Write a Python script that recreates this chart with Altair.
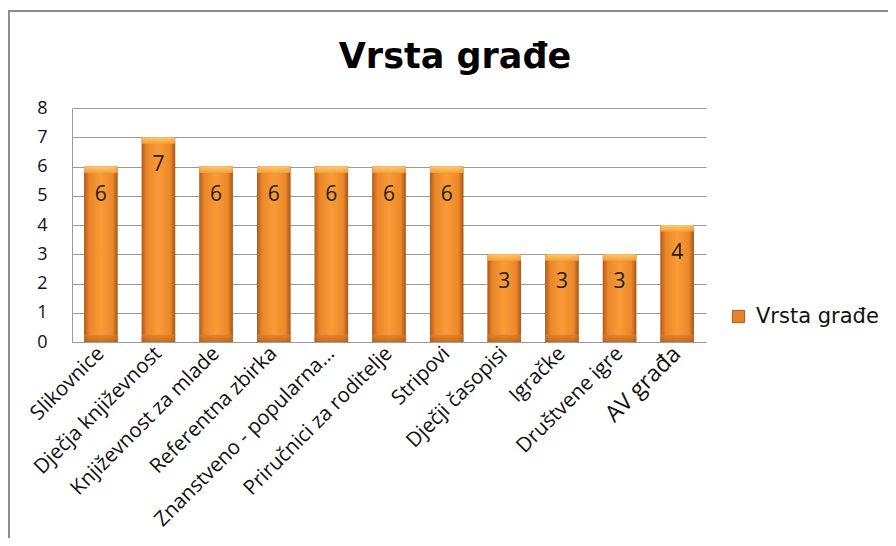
import altair as alt
import pandas as pd

categories = ["Slikovnice", "Dječja književnost", "Književnost za mlade", "Referentna zbirka",
              "Znanstveno - popularna...", "Priručnici za roditelje", "Stripovi", "Dječji časopisi",
              "Igračke", "Društvene igre", "AV građa"]
values = [6, 7, 6, 6, 6, 6, 6, 3, 3, 3, 4]
series_name = "Vrsta građe"
y_ticks = [0, 1, 2, 3, 4, 5, 6, 7, 8]

df = pd.DataFrame({"cat": categories, "val": values, "series": series_name})

xenc = alt.X("cat:N", sort=categories, title=None,
             scale=alt.Scale(paddingInner=0.42, paddingOuter=0.21),
             axis=alt.Axis(labelAngle=-45, labelAlign="right", labelBaseline="middle",
                           labelFont="Open Sans",
                           labelFontSize=alt.ExprRef("datum.value == 'AV građa' ? 23 : 20.5"),
                           labelColor="#111", labelPadding=8, ticks=False,
                           domainColor="#9a9a9a", labelLimit=400))
yscale = alt.Scale(domain=[0, 8])
yaxis = alt.Axis(values=y_ticks, grid=True, gridColor="#9a9a9a", domainColor="#9a9a9a",
                 ticks=False, labelFont="Open Sans", labelFontSize=18,
                 labelColor="#111", labelPadding=25, title=None)
yenc = alt.Y("val:Q", scale=yscale, axis=yaxis)

base = alt.Chart(df)

legend_layer = base.mark_bar(opacity=1).encode(
    x=xenc,
    y=yenc,
    color=alt.Color("series:N", title=None,
                    scale=alt.Scale(range=["#E8832A"]),
                    legend=alt.Legend(orient="none", legendX=656, legendY=198,
                                      symbolType="square", symbolSize=150,
                                      symbolStrokeColor="#a85a1c", symbolStrokeWidth=1,
                                      labelFont="DejaVu Sans", labelFontSize=21,
                                      labelColor="#111", labelOffset=7, labelLimit=300)),
)

grad = alt.LinearGradient(gradient="linear", x1=0, x2=1, y1=0, y2=0, stops=[
    alt.GradientStop(color="#B35A1A", offset=0),
    alt.GradientStop(color="#E9862B", offset=0.15),
    alt.GradientStop(color="#F99B36", offset=0.5),
    alt.GradientStop(color="#EB882B", offset=0.85),
    alt.GradientStop(color="#A9561A", offset=1),
])
bars = base.mark_bar(fill=grad).encode(x=xenc, y=yenc)

bevel_grad = alt.LinearGradient(gradient="linear", x1=0, x2=0, y1=0, y2=1, stops=[
    alt.GradientStop(color="#FFD27A", offset=0),
    alt.GradientStop(color="#F9A23D", offset=1),
])
bevel = base.transform_calculate(vtop="datum.val - 0.22").mark_bar(
    fill=bevel_grad, opacity=0.85).encode(x=xenc, y=yenc, y2="vtop:Q")

bottom_grad = alt.LinearGradient(gradient="linear", x1=0, x2=0, y1=0, y2=1, stops=[
    alt.GradientStop(color="#E07E28", offset=0),
    alt.GradientStop(color="#B0601E", offset=1),
])
bottom_bevel = base.transform_calculate(vb="0.25", v0="0").mark_bar(
    fill=bottom_grad, opacity=0.7).encode(x=xenc, y=alt.Y("vb:Q", scale=yscale, axis=yaxis), y2="v0:Q")

labels = base.mark_text(dy=28, font="Open Sans", fontSize=21, color="#222").encode(
    x=xenc, y=yenc, text="val:Q")

title = base.transform_filter(alt.datum.cat == categories[0]).mark_text(
    font="DejaVu Sans", fontSize=35, fontWeight="bold", color="#000",
    align="center", baseline="alphabetic").encode(
    x=alt.value(383), y=alt.value(-40), text="series:N")

frame_top = base.transform_filter(alt.datum.cat == categories[0]).mark_rule(
    color="#8c8c8c", strokeWidth=2).encode(x=alt.value(-64), x2=alt.value(820), y=alt.value(-97))
frame_left = base.transform_filter(alt.datum.cat == categories[0]).mark_rule(
    color="#8c8c8c", strokeWidth=2).encode(x=alt.value(-63), y=alt.value(-97), y2=alt.value(430))

chart = alt.layer(legend_layer, bars, bevel, bottom_bevel, labels, title, frame_top, frame_left).properties(
    width=634, height=234,
    autosize=alt.AutoSizeParams(type="none"),
    padding={"left": 64, "top": 100, "right": 182, "bottom": 196},
).configure_view(stroke=None)

chart.save("out.html", embed_options={"renderer": "svg", "actions": False})
